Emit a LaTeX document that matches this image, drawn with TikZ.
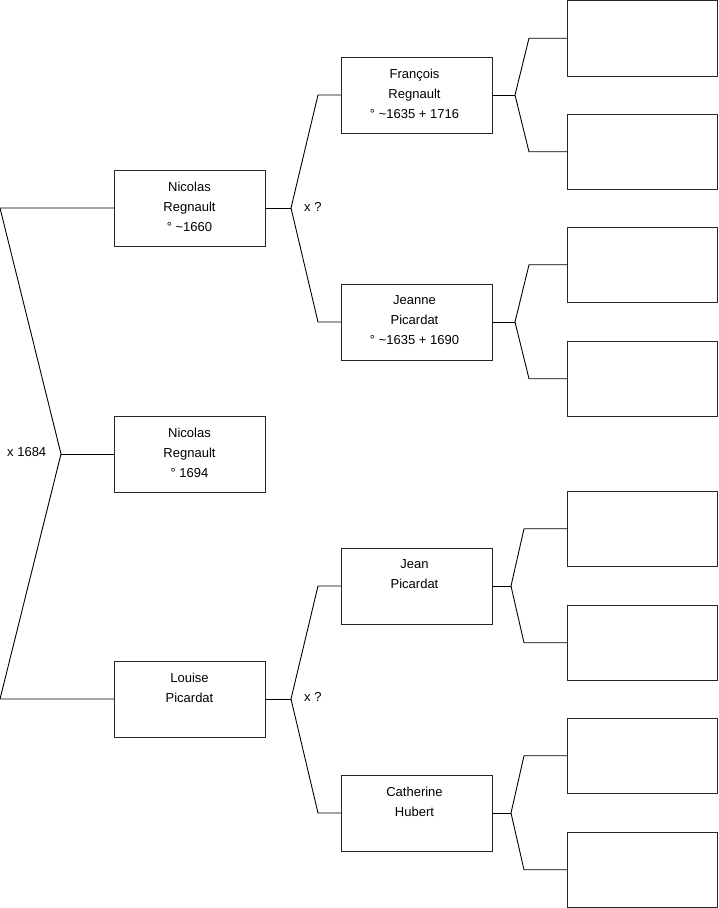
\documentclass[tikz,border=0pt]{standalone}
\usepackage{fontspec}
\setmainfont{Liberation Sans}
\begin{document}
\begin{tikzpicture}[x=1pt,y=-1pt,
  box/.style={draw=black!85, line width=0.9pt, minimum width=151pt, minimum height=76pt, inner sep=0pt, outer sep=0pt, anchor=north west},
  rbox/.style={box, minimum width=150.5pt, minimum height=75.5pt},
  txt/.style={font=\fontsize{13pt}{20pt}\selectfont, align=center, anchor=north, inner sep=0pt},
  lbl/.style={font=\fontsize{13pt}{20pt}\selectfont, anchor=west, inner sep=0pt},
  conn/.style={line width=0.9pt, black}]
\useasboundingbox (0,0) rectangle (719,908);
% generation 1 and 2
\node[box] (n1) at (114,170) {};
\node[box] (n0) at (114,416) {};
\node[box] (n2) at (114,661) {};
% generation 3
\node[box] (f)  at (341,57) {};
\node[box] (j)  at (341,284) {};
\node[box] (jp) at (341,548) {};
\node[box] (c)  at (341,775) {};
% generation 4
\node[rbox] (r1) at (567,0.5) {};
\node[rbox] (r2) at (567,114) {};
\node[rbox] (r3) at (567,227) {};
\node[rbox] (r4) at (567,341) {};
\node[rbox] (r5) at (567,491) {};
\node[rbox] (r6) at (567,605) {};
\node[rbox] (r7) at (567,718) {};
\node[rbox] (r8) at (567,832) {};
% texts
\node[txt] (t1) at ([yshift=-11.5pt]n1.north) {Nicolas\\Regnault\\° \textasciitilde1660};
\node[txt] (t0) at ([yshift=-11.5pt]n0.north) {Nicolas\\Regnault\\° 1694};
\node[txt] (t2) at ([yshift=-11.5pt]n2.north) {Louise\\Picardat};
\node[txt] (tf) at ([yshift=-11.5pt,xshift=-2pt]f.north) {François\\Regnault\\° \textasciitilde1635 + 1716};
\node[txt] (tj) at ([yshift=-11.5pt,xshift=-2pt]j.north) {Jeanne\\Picardat\\° \textasciitilde1635 + 1690};
\node[txt] (tjp) at ([yshift=-11.5pt,xshift=-2pt]jp.north) {Jean\\Picardat};
\node[txt] (tc) at ([yshift=-11.5pt,xshift=-2pt]c.north) {Catherine\\Hubert};
% labels
\node[lbl] (m0) at (7,452) {x 1684};
\node[lbl] (m1) at (304,207) {x ?};
\node[lbl] (m2) at (304,697) {x ?};
% coordinates
\coordinate (L1) at (0,208);
\coordinate (L2) at (0,699);
\coordinate (V0) at (61,454);
\coordinate (V1) at (291,208);
\coordinate (V2) at (291,699);
\coordinate (Vf) at (515,95);
\coordinate (Vj) at (515,322);
\coordinate (Vjp) at (511,586);
\coordinate (Vc) at (511,813);
% connectors
\draw[conn] (n1.west) -- (L1) -- (V0) -- (L2) -- (n2.west);
\draw[conn] (V0) -- (n0.west);
\draw[conn] (n1.east) -- (V1);
\draw[conn] (f.west) -- ([xshift=-23pt]f.west) -- (V1) -- ([xshift=-23pt]j.west) -- (j.west);
\draw[conn] (n2.east) -- (V2);
\draw[conn] (jp.west) -- ([xshift=-23pt]jp.west) -- (V2) -- ([xshift=-23pt]c.west) -- (c.west);
\draw[conn] (f.east) -- (Vf);
\draw[conn] (r1.west) -- ([xshift=-38pt]r1.west) -- (Vf) -- ([xshift=-38pt]r2.west) -- (r2.west);
\draw[conn] (j.east) -- (Vj);
\draw[conn] (r3.west) -- ([xshift=-38pt]r3.west) -- (Vj) -- ([xshift=-38pt]r4.west) -- (r4.west);
\draw[conn] (jp.east) -- (Vjp);
\draw[conn] (r5.west) -- ([xshift=-43pt]r5.west) -- (Vjp) -- ([xshift=-43pt]r6.west) -- (r6.west);
\draw[conn] (c.east) -- (Vc);
\draw[conn] (r7.west) -- ([xshift=-43pt]r7.west) -- (Vc) -- ([xshift=-43pt]r8.west) -- (r8.west);
\end{tikzpicture}
\end{document}
